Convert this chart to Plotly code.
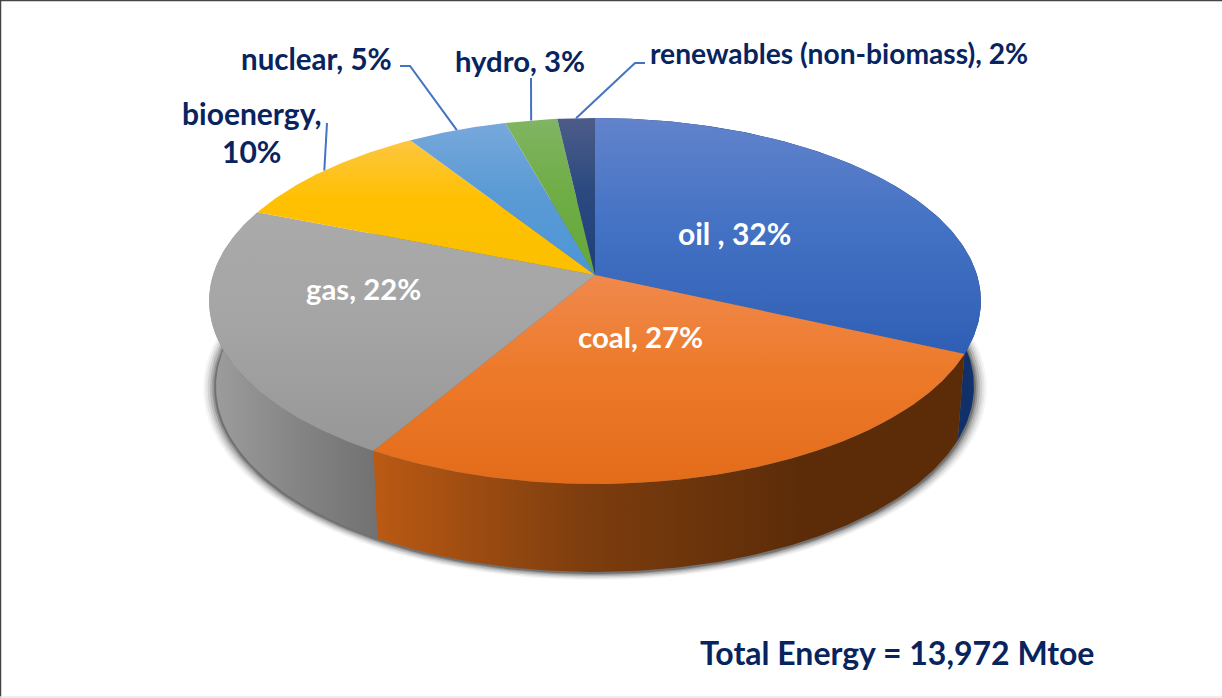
import numpy as np
import plotly.graph_objects as go

# shares behind the rounded labels
sources = ["oil", "coal", "gas", "bioenergy", "nuclear", "hydro", "renewables"]
shares = [31.8, 26.7, 22.5, 9.9, 4.8, 2.5, 1.8]
slice_labels = ["oil , 32%", "coal, 27%", "gas, 22%"]
total_label = "Total Energy = 13,972 Mtoe"

top_colors = {
    "oil": ["#6283cc", "#4472c4", "#2f5fb5"],
    "coal": ["#f0894d", "#ed7a2a", "#e36c1a"],
    "gas": ["#aaaaaa", "#a5a5a5", "#979797"],
    "bioenergy": ["#fdc640", "#ffc000", "#fcc000"],
    "nuclear": ["#77a8db", "#5b9bd5", "#4d95d8"],
    "hydro": ["#80b562", "#70ad47", "#64a838"],
    "renewables": ["#4d5c88", "#2c4a80", "#1f3d7a"],
}
side_colors = {
    "oil": ["#10306a", "#10306a", "#15346f"],
    "coal": ["#bb5a14", "#7d3d0e", "#5c2c09"],
    "gas": ["#9c9c9c", "#858585", "#727272"],
}

NAVY = "#08245f"
LEADER = "#4472c4"

# perspective view of the disc, in page pixels
CX, CY = 595, 275
RX, RY = 382, 179.3
PERSP = 0.142
DROP = 85
DROP_PERSP = 0.035
BOTTOM_SCALE = 0.982


def rim(theta):
    u, v = np.sin(theta), np.cos(theta)
    w = 1 + PERSP * v
    return CX + RX * u / w, CY - RY * v / w


def bottom_rim(theta, grow=1.0, shift=0):
    x, y = rim(theta)
    drop = DROP * (1 - DROP_PERSP * np.cos(theta))
    return CX + (x - CX) * BOTTOM_SCALE * grow, y + drop + (y - CY) * (grow - 1) + shift


def to_rgb(c):
    return "rgb(%d,%d,%d)" % (int(c[1:3], 16), int(c[3:5], 16), int(c[5:7], 16))


fracs = np.cumsum([0] + shares) / sum(shares) * 2 * np.pi
fig = go.Figure()

# soft shadow under the disc
full = np.linspace(0, 2 * np.pi, 240)
for grow, alpha in [(1.034, 0.05), (1.028, 0.08), (1.022, 0.11), (1.016, 0.16), (1.010, 0.24), (1.005, 0.36)]:
    sx, sy = bottom_rim(full, grow, 1)
    fig.add_trace(go.Scatter(x=sx, y=sy, mode="lines", line=dict(width=0), fill="toself",
                             fillcolor=f"rgba(50,50,50,{alpha})", hoverinfo="skip"))

# side walls first, then the top slices over them
for i in [2, 0, 1]:
    name = sources[i]
    t = np.linspace(fracs[i], fracs[i + 1], 120)
    x1, y1 = rim(t)
    x2, y2 = bottom_rim(t)
    xs = np.concatenate([x1, x2[::-1]])
    ys = np.concatenate([y1, y2[::-1]])
    c = side_colors[name]
    start, stop = {"gas": (215, 375), "coal": (372, 800), "oil": (955, 980)}[name]
    fig.add_trace(go.Scatter(
        x=xs, y=ys, mode="lines", line=dict(width=0), fill="toself", hoverinfo="skip",
        fillgradient=dict(type="horizontal", start=start, stop=stop,
                          colorscale=[[0, to_rgb(c[0])], [0.5, to_rgb(c[1])], [1, to_rgb(c[2])]]),
    ))

for i, name in enumerate(sources):
    t = np.linspace(fracs[i], fracs[i + 1], max(8, int(shares[i] * 8)))
    x, y = rim(t)
    xs = np.concatenate([[CX], x, [CX]])
    ys = np.concatenate([[CY], y, [CY]])
    c = top_colors[name]
    fig.add_trace(go.Scatter(
        x=xs, y=ys, mode="lines", line=dict(width=0), fill="toself", hoverinfo="skip",
        fillgradient=dict(type="vertical", start=ys.min(), stop=ys.max(),
                          colorscale=[[0, to_rgb(c[0])], [0.45, to_rgb(c[1])], [1, to_rgb(c[2])]]),
    ))

# leader lines: elbow by the label, end on the rim at the middle of the slice
elbows = {
    "bioenergy": [(327, 123)],
    "nuclear": [(400, 66), (410, 66)],
    "hydro": [(531, 78)],
    "renewables": [(645, 63), (635, 63)],
}
for name, pts in elbows.items():
    i = sources.index(name)
    ex, ey = rim((fracs[i] + fracs[i + 1]) / 2)
    fig.add_trace(go.Scatter(x=[p[0] for p in pts] + [ex], y=[p[1] for p in pts] + [ey],
                             mode="lines", line=dict(color=LEADER, width=2), hoverinfo="skip"))

texts = [
    (slice_labels[0], 734, 233, "white", 30),
    (slice_labels[1], 640, 336, "white", 29.4),
    (slice_labels[2], 363, 288, "white", 29.3),
    ("bioenergy,", 251, 113, NAVY, 30),
    ("10%", 251, 151, NAVY, 30),
    ("nuclear, 5%", 316, 58, NAVY, 29.5),
    ("hydro, 3%", 520, 60, NAVY, 29.3),
    ("renewables (non-biomass), 2%", 839, 53, NAVY, 28.2),
    (total_label, 897, 652, NAVY, 32),
]
for txt, x, y, color, size in texts:
    fig.add_annotation(x=x, y=y, text=f"<b>{txt}</b>", showarrow=False, xanchor="center", yanchor="middle",
                       font=dict(family="Lato", size=size, color=color))

fig.update_layout(
    width=1222,
    height=698,
    margin=dict(l=0, r=0, t=0, b=0),
    showlegend=False,
    paper_bgcolor="white",
    plot_bgcolor="white",
    xaxis=dict(range=[0, 1222], visible=False),
    yaxis=dict(range=[698, 0], visible=False),
    shapes=[
        dict(type="line", xref="x", yref="y", x0=0.5, x1=0.5, y0=0, y1=698, line=dict(color="#444444", width=1.5)),
        dict(type="line", xref="x", yref="y", x0=0, x1=1222, y0=0.5, y1=0.5, line=dict(color="#444444", width=1.5)),
        dict(type="line", xref="x", yref="y", x0=0, x1=1222, y0=697, y1=697, line=dict(color="#e8e8e8", width=1.5)),
    ],
)

# the page's default body margin would push the figure off by 8px
fig.write_html("out.html", config={"displayModeBar": False},
               post_script="document.body.style.margin='0';document.body.style.overflow='hidden';")
